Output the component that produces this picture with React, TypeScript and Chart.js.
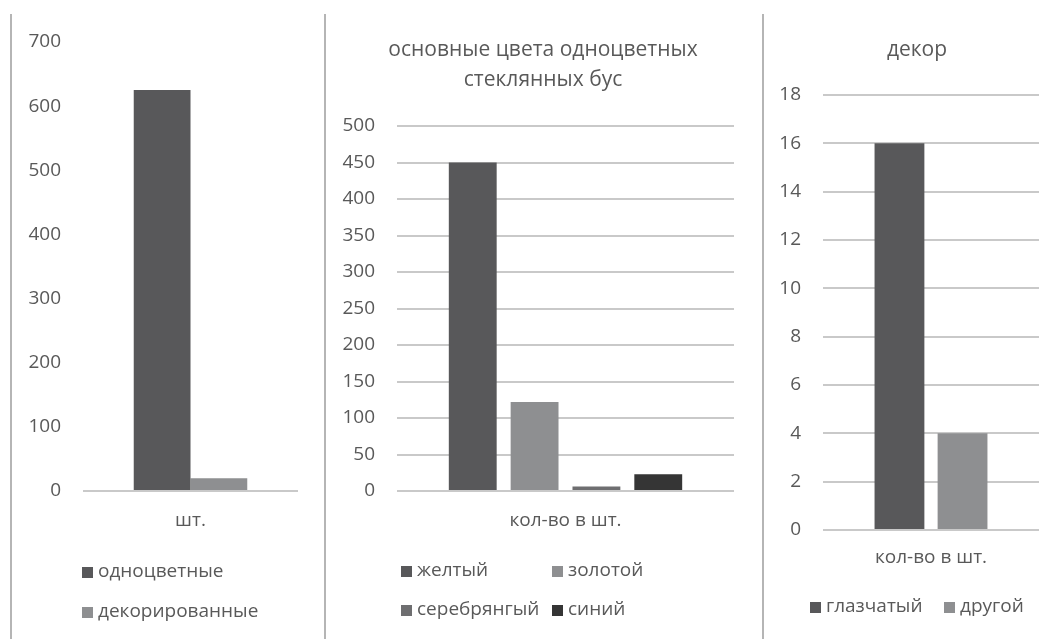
import React, { useEffect, useRef } from "react";
import { Chart, registerables } from "chart.js";

Chart.register(...registerables);

// Panel 1
const p1Categories = ["шт."];
const p1Series = ["одноцветные", "декорированные"];
const p1Values = [625, 20];
const p1Ticks = { min: 0, max: 700, step: 100 };

// Panel 2
const p2Title = ["основные цвета одноцветных", "стеклянных бус"];
const p2Categories = ["кол-во в шт."];
const p2Series = ["желтый", "золотой", "серебрянгый", "синий"];
const p2Values = [450, 122, 6, 23];
const p2Ticks = { min: 0, max: 500, step: 50 };

// Panel 3
const p3Title = ["декор"];
const p3Categories = ["кол-во в шт."];
const p3Series = ["глазчатый", "другой"];
const p3Values = [16, 4];
const p3Ticks = { min: 0, max: 18, step: 2 };

const DARK = "#58585a";
const LIGHT = "#8e8f91";
const MID = "#6e6e70";
const BLACKISH = "#353535";
const TEXT = "#595959";
const GRID = "#c9c9c9";
const FONT = "'Open Sans', 'DejaVu Sans', sans-serif";
const FS = 19;

const W = 1053;
const H = 639;

type LegendPos = { x: number; y: number }[];

const legendPlugin = {
  id: "posLegend",
  afterDraw(chart: any, _args: any, opts: any) {
    const ctx = chart.ctx;
    const pos: LegendPos = opts.positions || [];
    ctx.save();
    ctx.font = `${FS}px ${FONT}`;
    ctx.textBaseline = "middle";
    ctx.textAlign = "left";
    chart.data.datasets.forEach((ds: any, i: number) => {
      const p = pos[i];
      if (!p) return;
      ctx.fillStyle = ds.backgroundColor;
      ctx.fillRect(p.x, p.y - 5, 11, 11);
      ctx.fillStyle = TEXT;
      ctx.fillText(ds.label, p.x + 16, p.y);
    });
    ctx.restore();
  },
};

const titlePlugin = {
  id: "posTitle",
  afterDraw(chart: any, _args: any, opts: any) {
    const lines: string[] = opts.lines || [];
    if (!lines.length) return;
    const ctx = chart.ctx;
    ctx.save();
    ctx.font = `21px ${FONT}`;
    ctx.fillStyle = TEXT;
    ctx.textAlign = "center";
    ctx.textBaseline = "middle";
    lines.forEach((l, i) => ctx.fillText(l, opts.x, opts.y + i * opts.lineGap));
    ctx.restore();
  },
};

function makeConfig(o: {
  categories: string[];
  series: string[];
  values: number[];
  colors: string[];
  ticks: { min: number; max: number; step: number };
  title?: { lines: string[]; x: number; y: number; lineGap: number };
  padding: { left: number; right: number; top: number; bottom: number };
  yWidth: number;
  xHeight: number;
  xPad: number;
  catPct: number;
  barPct: number;
  onlyZeroGrid: boolean;
  legend: LegendPos;
}) {
  return {
    type: "bar",
    data: {
      labels: o.categories,
      datasets: o.series.map((s, i) => ({
        label: s,
        data: [o.values[i]],
        backgroundColor: o.colors[i],
        borderWidth: 0,
        categoryPercentage: o.catPct,
        barPercentage: o.barPct,
      })),
    },
    options: {
      responsive: false,
      animation: false,
      layout: { padding: o.padding },
      plugins: {
        legend: { display: false },
        tooltip: { enabled: false },
        title: { display: false },
        posLegend: { positions: o.legend },
        posTitle: o.title || { lines: [] },
      },
      scales: {
        x: {
          grid: { display: false, drawTicks: false },
          border: { display: false },
          ticks: { color: TEXT, font: { family: FONT, size: FS }, padding: o.xPad },
          afterFit(scale: any) {
            scale.height = o.xHeight;
          },
        },
        y: {
          min: o.ticks.min,
          max: o.ticks.max,
          border: { display: false },
          grid: {
            drawTicks: false,
            lineWidth: 2,
            color: (c: any) =>
              o.onlyZeroGrid ? (c.tick && c.tick.value === 0 ? GRID : "rgba(0,0,0,0)") : GRID,
          },
          ticks: {
            stepSize: o.ticks.step,
            color: TEXT,
            font: { family: FONT, size: FS },
            padding: 22,
          },
          afterFit(scale: any) {
            scale.width = o.yWidth;
          },
        },
      },
    },
    plugins: [legendPlugin, titlePlugin],
  };
}

function ChartCanvas({ config }: { config: any }) {
  const ref = useRef<HTMLCanvasElement | null>(null);
  useEffect(() => {
    if (!ref.current) return;
    const chart = new Chart(ref.current, config);
    return () => chart.destroy();
  }, []);
  return (
    <canvas
      ref={ref}
      width={W}
      height={H}
      style={{ position: "absolute", left: 0, top: 0, width: W, height: H }}
    />
  );
}

export default function App() {
  const c1 = makeConfig({
    categories: p1Categories,
    series: p1Series,
    values: p1Values,
    colors: [DARK, LIGHT],
    ticks: p1Ticks,
    padding: { left: 11, right: W - 298, top: 42, bottom: H - 491 - 45 },
    yWidth: 72,
    xHeight: 45,
    xPad: 18,
    catPct: 0.528,
    barPct: 1,
    onlyZeroGrid: true,
    legend: [
      { x: 82, y: 572 },
      { x: 82, y: 612 },
    ],
  });
  const c2 = makeConfig({
    categories: p2Categories,
    series: p2Series,
    values: p2Values,
    colors: [DARK, LIGHT, MID, BLACKISH],
    ticks: p2Ticks,
    title: { lines: p2Title, x: 543, y: 50, lineGap: 30 },
    padding: { left: 325, right: W - 734, top: 126, bottom: H - 491 - 45 },
    yWidth: 72,
    xHeight: 45,
    xPad: 18,
    catPct: 0.734,
    barPct: 0.774,
    onlyZeroGrid: false,
    legend: [
      { x: 401, y: 571 },
      { x: 552, y: 571 },
      { x: 401, y: 610 },
      { x: 552, y: 610 },
    ],
  });
  const c3 = makeConfig({
    categories: p3Categories,
    series: p3Series,
    values: p3Values,
    colors: [DARK, LIGHT],
    ticks: p3Ticks,
    title: { lines: p3Title, x: 917, y: 50, lineGap: 30 },
    padding: { left: 763, right: W - 1039, top: 95, bottom: H - 530 - 45 },
    yWidth: 60,
    xHeight: 45,
    xPad: 16,
    catPct: 0.584,
    barPct: 0.79,
    onlyZeroGrid: false,
    legend: [
      { x: 810, y: 607 },
      { x: 944, y: 607 },
    ],
  });

  return (
    <div style={{ position: "absolute", left: 0, top: 0, width: W, height: H, background: "#fff", overflow: "hidden" }}>
      <div style={{ position: "absolute", left: 10, top: 14, width: 2, height: H - 14, background: "#b5b5b5" }} />
      <div style={{ position: "absolute", left: 324, top: 14, width: 2, height: H - 14, background: "#b5b5b5" }} />
      <div style={{ position: "absolute", left: 762, top: 14, width: 2, height: H - 14, background: "#b5b5b5" }} />
      <ChartCanvas config={c1} />
      <ChartCanvas config={c2} />
      <ChartCanvas config={c3} />
    </div>
  );
}
